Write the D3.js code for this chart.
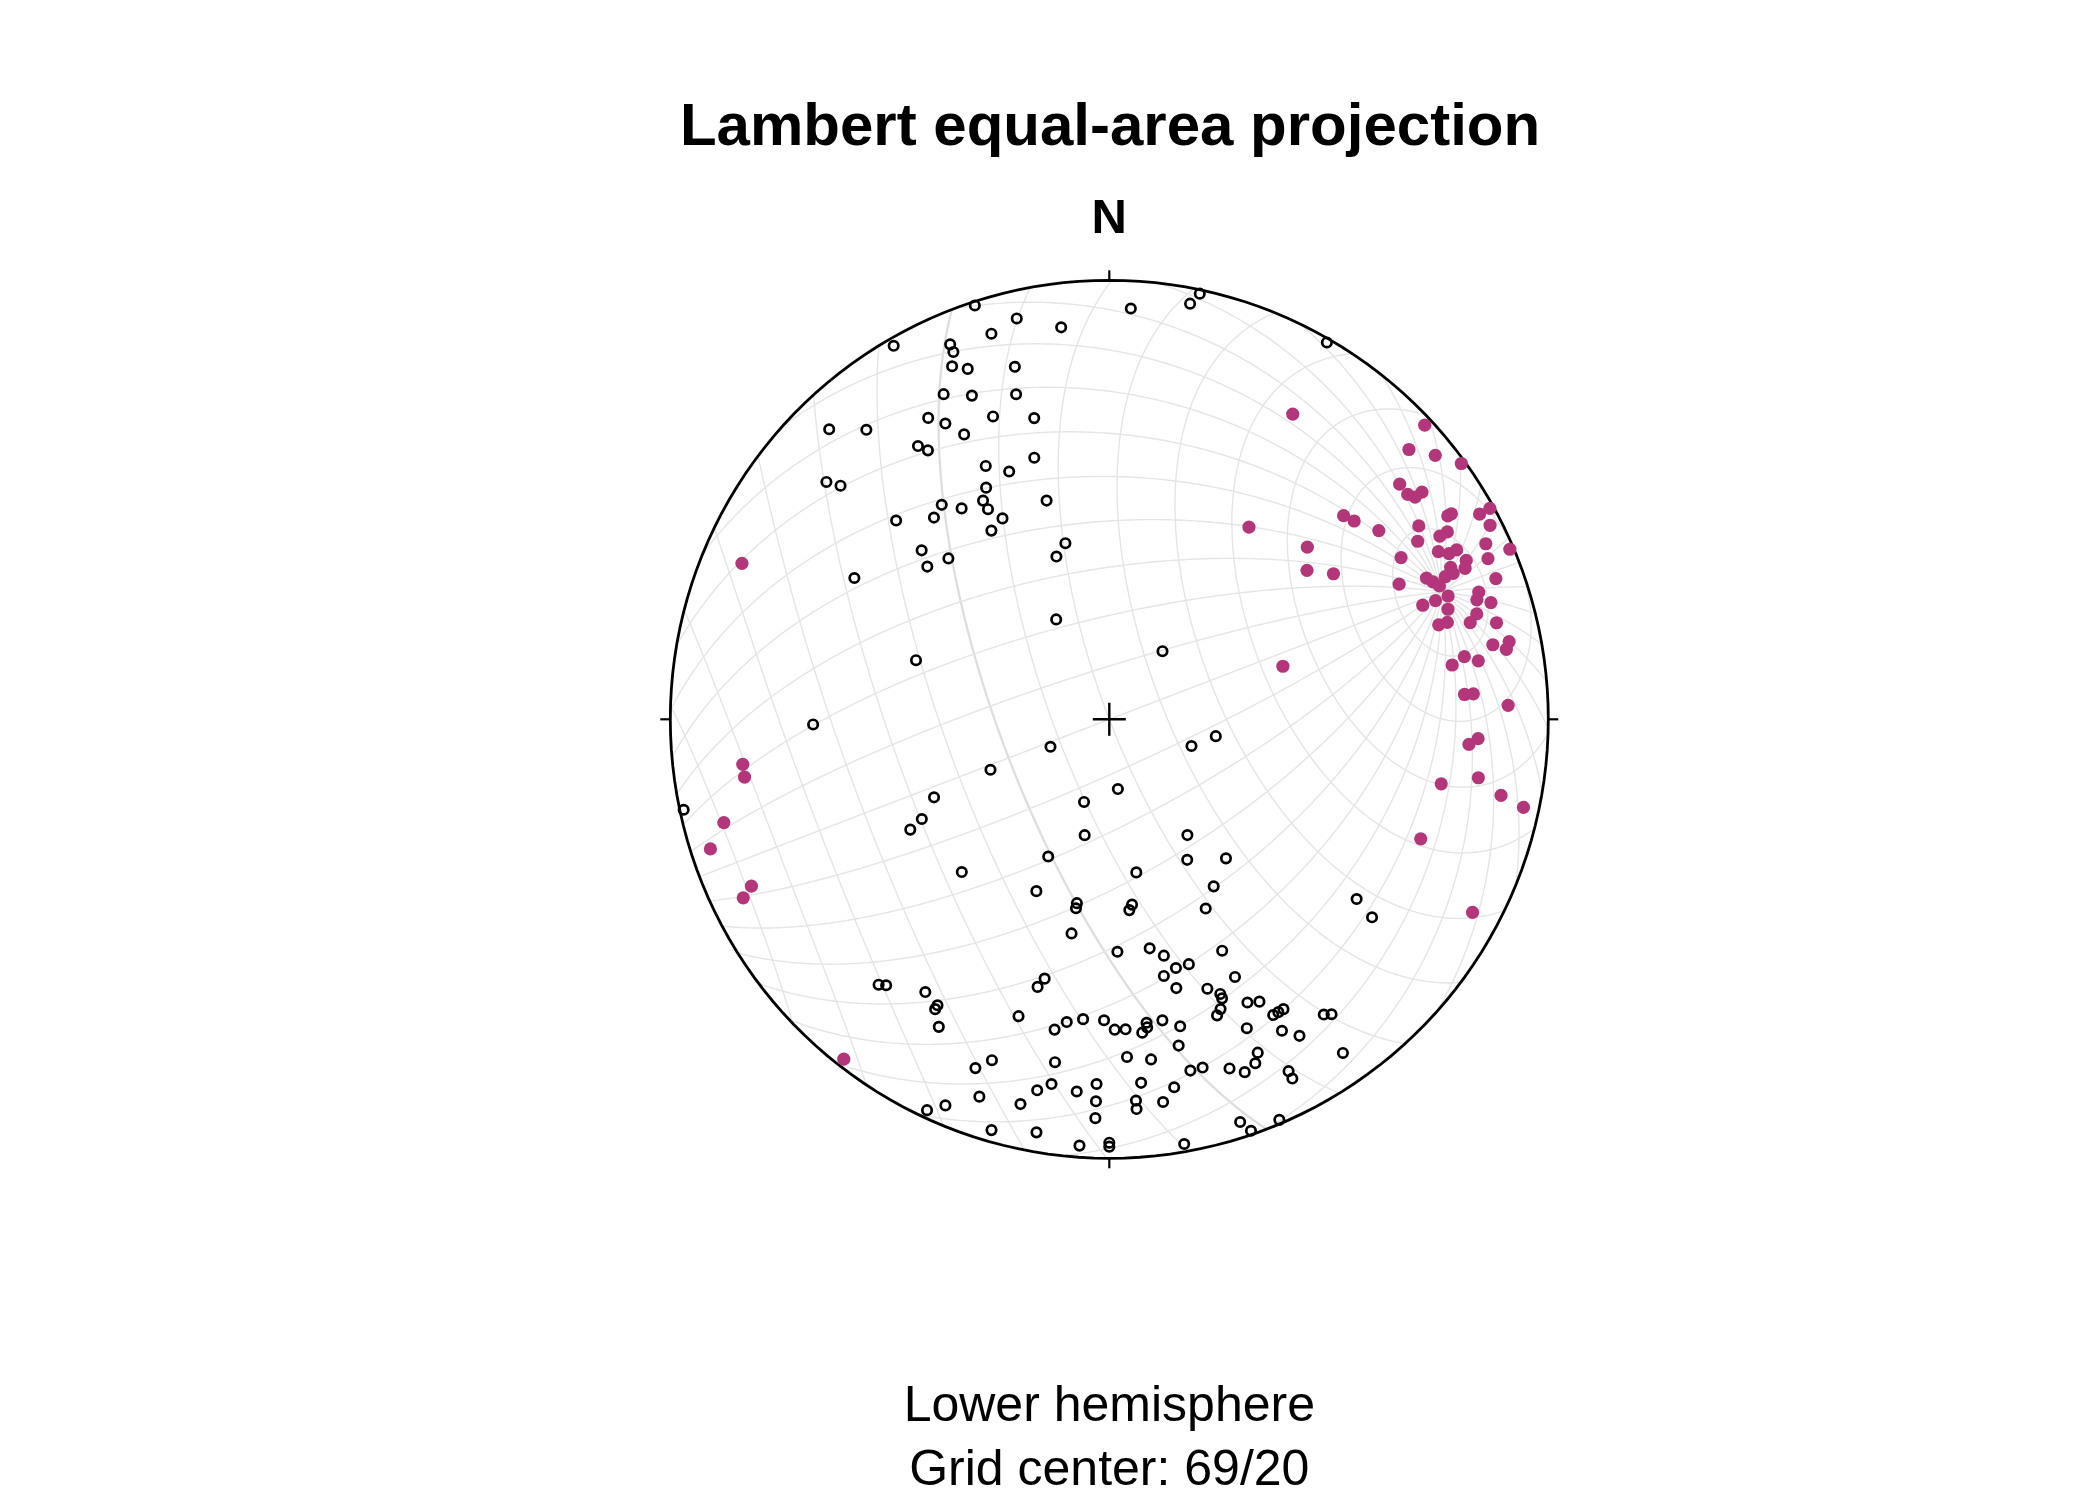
<!DOCTYPE html>
<html>
<head>
<meta charset="utf-8">
<script src="https://cdn.jsdelivr.net/npm/d3@7"></script>
<style>
  html, body { margin: 0; padding: 0; background: #ffffff; }
  svg { display: block; }
</style>
</head>
<body>
<svg id="chart" width="2100" height="1500"></svg>
<script>
// ---------------- DATA (trend / plunge in degrees) ----------------
const gridCenter = [69, 20];                 // trend / plunge of the grid axis
const smallCircleAngles = d3.range(10, 180, 10);
const greatCircleSteps = d3.range(0, 180, 10);
const compassTicks = [0, 90, 180, 270];

const titleText = "Lambert equal-area projection";
const northLabel = "N";
const subtitleLines = ["Lower hemisphere", "Grid center: 69/20"];

// open black circles
const openPoints = [
  [342,1],[347,7],[353,11],[343,9],[330,2],[337,8],[337,10],[336,13],[338,15],[345,18],
  [333,18],[337,21],[344,24],[329,21],[331,24],[339,27],[346,30],[333,28],[316,9],[320,15],
  [325,25],[326,27],[334,36],[338,39],[344,38],[310,17],[311,20],[332,40],[330,42],[330,44],
  [322,38],[325,41],[319,39],[332,47],[328,48],[313,34],[344,47],[346,56],[342,58],[312,42],
  [315,47],[310,45],[299,34],
  [3,7],[11,4],[12,1],[30,1],
  [38,74],[332,69],[287,52],[269,33],[258,1],
  [245,78],[247,66],[246,54],[242,50],[241,47],
  [108,74],[99,70],[173,77],[197,74],[192,68],[146,64],[151,60],[140,56],[204,62],[224,50],
  [170,61],[148,53],[203,55],[190,55],[190,54],[173,55],[174,54],[153,50],[190,49],[126,31],
  [127,26],
  [178,46],[170,46],[167,44],[154,41],[165,41],[162,41],[168,40],[166,37],[154,35],[221,21],
  [220,22],[214,26],[211,25],[211,24],[209,21],[194,39],[195,37],[197,30],[190,29],[188,31],
  [185,32],[181,32],[179,30],[177,30],[173,31],[173,30],[174,29],[170,31],[167,29],[168,25],
  [160,35],[158,33],[158,32],[159,30],[160,29],[154,29],[152,28],[151,24],[150,24],[149,24],
  [156,24],[151,20],[149,17],[144,18],[143,17],[145,8],[177,24],[173,23],[167,19],[165,19],
  [161,17],[159,15],[157,16],[156,18],[153,11],[153,9],[201,16],[199,19],[189,22],[189,17],
  [191,15],[185,16],[182,18],[182,14],[182,10],[175,18],[176,14],[176,12],[170,16],[172,13],
  [199,10],[203,5],[205,2],[193,11],[196,3],[190,5],[184,3],[180,4],[180,3],[170,2],
  [162,4],[161,1],[157,1]
];

// filled magenta points
const filledPoints = [
  [31,20],[47,2],[48,9],[51,5],[54,1],[51,16],[53,16],[54,15],[54,13],[49,30],
  [51,29],[55,26],[36,45],[59,11],[59,10],[61,4],[61,1],[58,18],[63,3],[49,40],
  [53,43],[57,39],[60,20],[61,15],[61,13],[65,6],[67,1],[63,17],[64,15],[64,13],
  [67,7],[61,25],[66,12],[67,13],[66,16],[67,16],[67,18],[66,22],[67,21],[68,20],
  [70,7],[65,28],[70,19],[71,12],[72,13],[73,10],[70,22],[70,25],[72,20],[74,14],
  [75,16],[74,23],[74,21],[76,10],[79,12],[79,8],[80,9],[80,19],[81,16],[81,22],
  [73,56],[86,20],[86,18],
  [93,17],[94,19],[88,10],[101,24],[99,16],[101,10],[102,4],[111,25],[118,7],
  [293,10],[263,17],[261,17],[255,10],[252,5],[245,11],[244,8],[218,2]
];

// ---------------- LAYOUT ----------------
const cx = 1109.3, cy = 719.3, R = 439;
const svg = d3.select("#chart");
const FONT = "'Liberation Sans', Arial, Helvetica, sans-serif";

// trend/plunge -> lon/lat on a sphere whose north pole is "straight down"
const toLonLat = ([t, p]) => [180 - t, p];

const proj = d3.geoAzimuthalEqualArea()
  .rotate([0, -90])
  .scale(R / Math.SQRT2)
  .translate([cx, cy])
  .clipAngle(90)
  .precision(0.1);
const path = d3.geoPath(proj);

const rad = Math.PI / 180;
const cart = ([lon, lat]) => [Math.cos(lat*rad)*Math.cos(lon*rad), Math.cos(lat*rad)*Math.sin(lon*rad), Math.sin(lat*rad)];
const sph = ([x, y, z]) => [Math.atan2(y, x) / rad, Math.asin(Math.max(-1, Math.min(1, z))) / rad];
const ringLine = (center, radius) => ({
  type: "LineString",
  coordinates: d3.geoCircle().center(center).radius(radius).precision(0.5)().coordinates[0]
});

// ---------------- GRID ----------------
const grid = svg.append("g").attr("fill", "none");
const axisLL = toLonLat(gridCenter);

// small circles around the grid axis
smallCircleAngles.forEach(a => {
  grid.append("path")
    .attr("d", path(ringLine(axisLL, a)))
    .attr("stroke", a === 90 ? "#dedede" : "#e5e5e5")
    .attr("stroke-width", a === 90 ? 2.3 : 1.4);
});

// great circles through the grid axis
const B = cart(toLonLat([gridCenter[0] + 180, 90 - gridCenter[1]]));
const C = cart(toLonLat([gridCenter[0] + 90, 0]));
greatCircleSteps.forEach(k => {
  const c = Math.cos(k * rad), s = Math.sin(k * rad);
  const pole = sph([c*B[0] + s*C[0], c*B[1] + s*C[1], c*B[2] + s*C[2]]);
  grid.append("path")
    .attr("d", path(ringLine(pole, 90)))
    .attr("stroke", "#e5e5e5")
    .attr("stroke-width", 1.4);
});

// ---------------- PRIMITIVE, TICKS, CROSS ----------------
svg.append("path")
  .attr("d", path({type: "Sphere"}))
  .attr("fill", "none")
  .attr("stroke", "#000")
  .attr("stroke-width", 2.8);

compassTicks.forEach(az => {
  const [x0, y0] = proj(toLonLat([az, 0]));
  const ux = (x0 - cx) / R, uy = (y0 - cy) / R;
  svg.append("line")
    .attr("x1", x0).attr("y1", y0)
    .attr("x2", x0 + ux * 10).attr("y2", y0 + uy * 10)
    .attr("stroke", "#000").attr("stroke-width", 2.2);
});

const [ccx, ccy] = proj(toLonLat([0, 90]));
svg.append("line").attr("x1", ccx - 16.5).attr("x2", ccx + 16.5).attr("y1", ccy).attr("y2", ccy)
  .attr("stroke", "#000").attr("stroke-width", 2.4);
svg.append("line").attr("x1", ccx).attr("x2", ccx).attr("y1", ccy - 16.5).attr("y2", ccy + 16.5)
  .attr("stroke", "#000").attr("stroke-width", 2.4);

// ---------------- POINTS ----------------
svg.append("g").selectAll("circle")
  .data(openPoints)
  .join("circle")
  .attr("cx", d => proj(toLonLat(d))[0])
  .attr("cy", d => proj(toLonLat(d))[1])
  .attr("r", 4.7)
  .attr("fill", "none")
  .attr("stroke", "#000")
  .attr("stroke-width", 2.7);

svg.append("g").selectAll("circle")
  .data(filledPoints)
  .join("circle")
  .attr("cx", d => proj(toLonLat(d))[0])
  .attr("cy", d => proj(toLonLat(d))[1])
  .attr("r", 6.6)
  .attr("fill", "#b3367a");

// ---------------- TEXT ----------------
svg.append("text")
  .attr("x", 1110).attr("y", 145)
  .attr("text-anchor", "middle")
  .attr("font-family", FONT).attr("font-weight", "bold").attr("font-size", 60)
  .attr("fill", "#000")
  .text(titleText);

svg.append("text")
  .attr("x", cx).attr("y", 233)
  .attr("text-anchor", "middle")
  .attr("font-family", FONT).attr("font-weight", "bold").attr("font-size", 49)
  .attr("fill", "#000")
  .text(northLabel);

subtitleLines.forEach((t, i) => {
  svg.append("text")
    .attr("x", cx).attr("y", 1421 + i * 64)
    .attr("text-anchor", "middle")
    .attr("font-family", FONT).attr("font-size", 50)
    .attr("fill", "#000")
    .text(t);
});
</script>
</body>
</html>
